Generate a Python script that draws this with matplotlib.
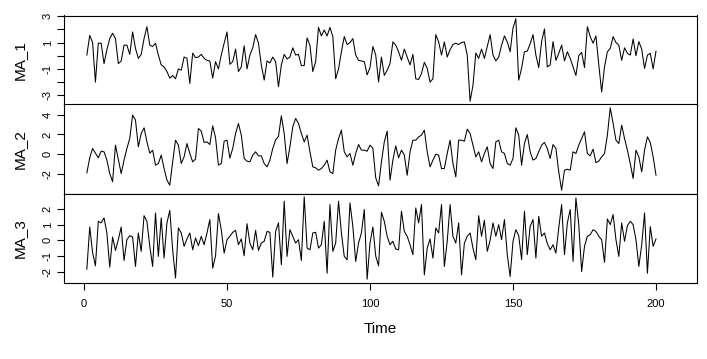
import matplotlib
matplotlib.use("agg")
import matplotlib.pyplot as plt
import numpy as np

# MA_1 values, t = 1..200
ma1 = [
    0.05, 1.55, 1.0, -2.0, 0.95, 0.95, -0.6, 0.45, 1.3, 1.7,
    1.3, -0.6, -0.4, 0.8, 0.8, 0.1, 1.8, 0.55, -0.2, 0.1,
    1.3, 2.2, 0.8, 0.7, 0.95, 0.05, -0.7, -0.85, -1.2, -1.7,
    -1.5, -1.75, -1.0, -1.1, -0.1, -0.2, -2.1, 0.2, -0.15, -0.1,
    0.1, -0.2, -0.35, -0.4, -1.7, -0.45, -1.0, 0.05, 0.95, 1.8,
    -0.65, -0.45, 0.5, -1.2, -0.85, 0.75, -1.0, 0.05, 0.6, 1.6,
    0.95, -0.7, -1.85, -0.4, -0.55, -0.1, -0.45, -2.35, -0.7, 0.1,
    -0.25, -0.1, 0.6, 0.05, 0.1, -0.75, -0.75, 1.35, 0.8, -1.2,
    -0.45, 2.15, 1.5, 1.95, 1.5, 2.15, 1.45, -1.75, -1.0, 0.3,
    1.45, 0.85, 1.0, 1.3, 0.05, -0.35, -0.4, -0.45, -1.45, -0.9,
    0.7, 0.05, -2.0, -0.1, -1.5, -1.1, -0.6, 1.05, 0.8, 0.3,
    -0.35, 0.5, -0.1, -0.7, 0.1, -1.75, -1.8, -1.35, -0.5, -0.95,
    -2.0, -1.75, 1.6, 1.05, 0.05, 1.05, -0.1, 0.45, 0.85, 0.95,
    0.85, 1.0, 1.05, 0.05, -3.45, -2.25, 0.2, -0.2, 0.5, -0.2,
    0.7, 1.6, 0.05, -0.4, -0.1, 0.8, 1.5, 1.05, 0.3, 2.1,
    2.8, -1.85, -0.95, 0.3, 0.35, 0.9, 1.6, 0.05, -0.9, 1.07,
    2.03, -0.85, -0.7, 1.07, -0.35, 0.18, 0.8, -0.4, 0.3, -0.2,
    -0.85, -1.5, 0.0, 0.25, -0.9, 2.2, 1.45, 0.95, 1.5, -0.7,
    -2.75, -0.85, 0.3, 0.55, 1.45, 1.0, 0.8, -0.35, 0.6, 0.18,
    0.05, 1.27, 0.0, 1.07, 0.5, -0.97, 0.05, 0.18, -1.0, 0.35,
]

ma2 = [
    -1.9, -0.37, 0.58, 0.1, -0.37, 0.3, 0.24, -0.6, -1.97, -2.8,
    0.92, -0.5, -1.97, -0.6, 0.58, 1.6, 3.97, 3.46, 0.75, 2.1,
    2.68, 1.25, 0.1, 0.4, -1.12, -0.95, -0.1, -1.46, -2.64, -3.15,
    -0.78, 1.42, 0.92, -0.95, -0.27, 1.08, 0.07, -0.78, -0.5, 2.61,
    2.34, 1.19, 1.25, 0.98, 2.88, 1.66, -1.12, -0.95, 1.32, 1.42,
    -0.4, 0.58, 2.1, 3.12, 1.93, -0.44, -0.71, -0.78, -0.1, 0.24,
    -0.17, -0.17, -0.95, -1.29, -0.61, 0.58, 1.45, 1.8, 3.9, 2.1,
    -0.95, 0.75, 2.78, 3.63, 3.12, 2.1, 1.25, 1.93, 0.24, -1.29,
    -1.39, -1.63, -1.46, -1.12, -0.61, -1.8, -1.97, 0.41, 1.59, 2.44,
    0.24, -0.27, 0.07, -1.12, 0.07, 0.98, 0.41, 0.41, 0.3, 0.92,
    0.6, -2.4, -3.22, -0.78, 1.25, 2.34, -2.64, -0.61, 0.85, -0.37,
    0.41, -0.1, -2.14, 0.24, 1.42, 1.42, 1.76, 1.93, 2.44, 0.24,
    -1.29, -0.61, 0.0, -0.1, -1.46, -1.46, 0.07, 1.42, -0.95, -2.3,
    1.42, 1.42, 1.32, 2.54, 2.1, 0.92, -0.27, 0.24, -0.78, 0.07,
    0.75, -0.95, -1.46, 1.25, 1.42, 0.24, 0.07, -0.95, -1.12, -0.44,
    2.68, 1.93, -1.12, 1.08, 2.0, 0.24, -0.6, -0.44, 0.24, 0.92,
    1.19, 0.58, -0.44, 0.98, 0.58, -1.8, -3.66, -1.63, -1.53, -1.63,
    0.24, 0.07, 0.92, 1.59, 2.27, 0.07, -0.17, 0.51, -0.85, -0.71,
    -0.27, 0.07, 1.93, 4.71, 3.12, 1.42, 1.08, 2.95, 1.59, 0.41,
    -0.95, -2.47, 0.41, -0.27, -1.8, 0.41, 1.76, 1.2, -0.27, -2.14,
]

ma3 = [
    -1.83, 0.85, -0.77, -1.62, 1.21, 1.11, 1.43, 0.47, -1.7, 0.21,
    -0.64, 0.04, 0.85, -1.28, 0.04, 0.3, 0.21, -1.66, 0.47, -0.7,
    1.57, 1.21, -0.38, -1.66, 1.74, -1.02, 1.43, -1.13, 1.11, 1.91,
    -0.6, -2.4, 0.79, 0.47, -0.38, 0.09, 0.47, -0.6, 0.15, -0.34,
    0.26, -0.28, 0.47, 1.32, -1.77, -0.98, 1.7, 0.68, -0.81, 0.04,
    0.26, 0.51, 0.64, -0.28, 0.09, -0.98, 1.06, -0.17, -0.6, 0.64,
    -0.64, -0.17, -0.06, 0.57, 0.51, -2.34, 0.57, 1.11, -1.55, 2.49,
    -1.02, 0.68, 0.26, -0.17, 0.04, -1.28, 2.77, -0.49, -0.6, 0.47,
    0.51, -0.49, -0.28, 1.21, -2.09, 2.28, -0.7, -0.17, 2.49, 0.47,
    -1.02, -1.23, 2.38, 0.89, -1.34, -0.17, 0.47, 1.96, -2.47, -0.17,
    0.85, -1.0, -1.62, 1.79, 1.21, 0.26, -0.28, -0.06, -0.55, -0.6,
    1.85, 0.57, 0.26, -0.28, -0.91, 2.06, 1.11, 2.28, -2.19, -0.49,
    0.09, -1.13, 0.79, 0.47, 2.28, -1.66, -0.06, 2.28, 0.26, -0.17,
    1.11, -2.19, -0.17, 0.26, 0.47, -0.49, -1.23, 1.57, 0.26, 1.28,
    -0.7, 0.0, 1.11, 0.26, 1.0, 0.04, 1.32, -0.91, -2.3, -0.06,
    0.68, 0.3, -1.23, 1.85, -0.91, 0.89, 1.32, -1.13, 1.53, 0.26,
    0.47, -0.2, -0.6, -0.28, -0.81, 0.79, 2.28, -0.91, 1.11, 1.96,
    -1.34, 2.7, 1.0, -1.98, -0.38, 0.26, 0.36, 0.68, 0.57, 0.26,
    0.04, -1.4, 1.36, 1.0, 1.64, 0.04, -1.02, 1.11, -0.06, 0.94,
    1.21, 1.0, 0.04, -1.66, -0.28, 1.74, -2.09, 0.87, -0.38, 0.09,
]

series_names = ["MA_1", "MA_2", "MA_3"]
ytick_sets = [
    ([-3, -2, -1, 0, 1, 2, 3], ["-3", "", "-1", "", "1", "", "3"]),
    ([-2, 0, 2, 4], ["-2", "0", "2", "4"]),
    ([-2, -1, 0, 1, 2], ["-2", "-1", "0", "1", "2"]),
]
xticks = [0, 50, 100, 150, 200]

plt.rcParams["font.family"] = ["Liberation Sans", "DejaVu Sans"]

W, H = 707, 359
fig = plt.figure(figsize=(W / 100, H / 100), dpi=100)

left_px, right_px = 64, 697
top_px, bottom_px = 15.5, 282.5
panel_h = (bottom_px - top_px) / 3
# pixel position of t=0 and t=200 in the reference
x0_px, x200_px = 84, 656
px_per_t = (x200_px - x0_px) / 200
xlim = ((left_px - x0_px) / px_per_t, (right_px - x0_px) / px_per_t)

for i, (vals, name, (yt, ylab)) in enumerate(zip([ma1, ma2, ma3], series_names, ytick_sets)):
    y0 = top_px + i * panel_h
    ax = fig.add_axes([left_px / W, 1 - (y0 + panel_h) / H,
                       (right_px - left_px) / W, panel_h / H])
    t = np.arange(1, len(vals) + 1)
    ax.plot(t, vals, color="black", lw=0.75)

    ax.set_xlim(*xlim)
    # R style 4% padding
    lo, hi = min(vals), max(vals)
    r = hi - lo
    ax.set_ylim(lo - 0.04 * r, hi + 0.04 * r)

    ax.set_yticks(yt)
    ax.set_yticklabels(ylab, rotation=90, va="center")
    ax.tick_params(axis="y", length=5, width=0.8, labelsize=8, pad=3)
    for sp in ax.spines.values():
        sp.set_linewidth(0.8)

    if i < 2:
        ax.set_xticks([])
    else:
        ax.set_xticks(xticks)
        ax.tick_params(axis="x", length=5, width=0.8, labelsize=8, pad=7)
        ax.set_xlabel("Time", fontsize=11, labelpad=9)

    fig.text(20 / W, 1 - (y0 + panel_h / 2) / H, name, rotation=90,
             ha="center", va="center", fontsize=11)

fig.savefig("out.png", dpi=100)
